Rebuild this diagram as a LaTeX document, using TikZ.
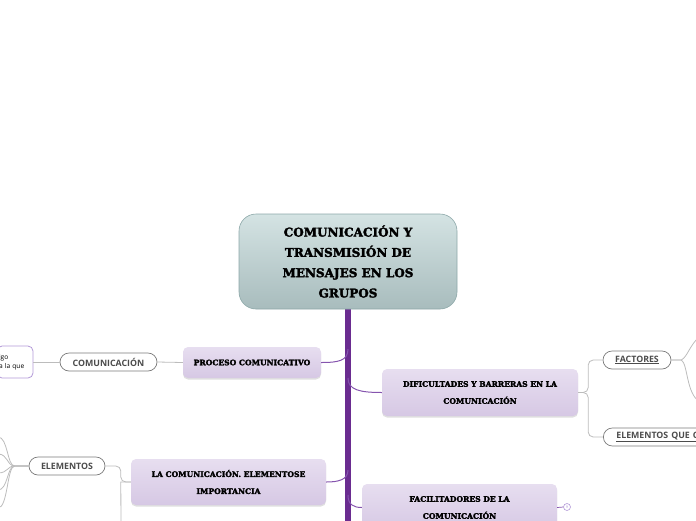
\documentclass[tikz,border=0pt]{standalone}
\usepackage{fontspec}
\setmainfont{DejaVu Serif}[BoldFeatures={FakeBold=2.6}]
\newfontfamily\pillfont{Open Sans}
\usetikzlibrary{shadows}

\definecolor{trunkpurple}{HTML}{6A2C90}
\definecolor{branchpurple}{HTML}{8554AE}
\definecolor{lavtop}{HTML}{E7DEF0}
\definecolor{lavbot}{HTML}{D6C8E4}
\definecolor{titletop}{HTML}{D4E3E3}
\definecolor{titlebot}{HTML}{A8BCBD}
\definecolor{titleedge}{HTML}{8DA8A9}
\definecolor{pillgray}{HTML}{7A7A7A}
\definecolor{linkgray}{HTML}{BCBCBC}
\definecolor{leafpurple}{HTML}{B39AD8}

\tikzset{
	topic/.style={rounded corners=5pt,top color=lavtop,bottom color=lavbot,
		drop shadow={opacity=0.25,shadow xshift=0pt,shadow yshift=-1.5pt},
		align=center,inner sep=0pt,font=\bfseries\fontsize{7.6}{17}\selectfont},
	pill/.style={draw=pillgray,line width=0.7pt,fill=white,rounded corners=9pt,
		minimum height=18pt,inner sep=0pt,text=black!70,
		font=\pillfont\bfseries\fontsize{8.8}{10}\selectfont},
	trunk/.style={trunkpurple,line width=5.5pt},
	branch/.style={branchpurple,line width=1pt},
	link/.style={linkgray,line width=0.8pt},
	leaf/.style={leafpurple,line width=0.7pt}
}

\begin{document}
\begin{tikzpicture}[x=1pt,y=-1pt]
	\useasboundingbox (0,0) rectangle (696,520);
	\clip (0,0) rectangle (696,520);
	
	%CENTRAL TOPIC
	\coordinate (trunkend) at (348,530);
	\draw[trunk] (348,300) -- (trunkend);
	\node[rounded corners=17pt,top color=titletop,bottom color=titlebot,draw=titleedge,line width=0.6pt,
		minimum width=218pt,minimum height=95pt,align=center,
		font=\bfseries\fontsize{12}{20.3}\selectfont] (title) at (348,261.5)
		{COMUNICACIÓN Y\\TRANSMISIÓN DE\\MENSAJES EN LOS\\GRUPOS};
	
	%MAIN TOPICS
	\node[topic,minimum width=138pt,minimum height=31pt] (proceso) at (252,362.5) {PROCESO COMUNICATIVO};
	\node[topic,minimum width=196pt,minimum height=47pt] (dificultades) at (480,392.5) {DIFICULTADES Y BARRERAS EN LA\\COMUNICACIÓN};
	\node[topic,minimum width=195pt,minimum height=46pt] (lacomunicacion) at (228.5,482) {LA COMUNICACIÓN. ELEMENTOSE\\IMPORTANCIA};
	\node[topic,minimum width=195pt,minimum height=47pt] (facilitadores) at (459.5,507.5) {FACILITADORES DE LA\\COMUNICACIÓN};
	
	\coordinate (jproceso) at (348,349);
	\coordinate (jdificultades) at (348,378);
	\coordinate (jlacomunicacion) at (348,470);
	\coordinate (jfacilitadores) at (348,495);
	\draw[branch] (jproceso) .. controls (348,361) and (338,362.5) .. (proceso.east);
	\draw[branch] (jdificultades) .. controls (348,390) and (360,392.5) .. (dificultades.west);
	\draw[branch] (jlacomunicacion) .. controls (348,480) and (338,482) .. (lacomunicacion.east);
	\draw[branch] (jfacilitadores) .. controls (348,505) and (354,507.5) .. (facilitadores.west);
	
	%SUBTOPICS
	\node[pill,minimum width=97pt] (comunicacion) at (108.5,362) {COMUNICACIÓN};
	\node[draw=leafpurple,line width=0.8pt,fill=white,rounded corners=5pt,minimum width=36pt,minimum height=32pt,
		inner sep=0pt,align=left,text width=32pt,font=\pillfont\fontsize{6.6}{9}\selectfont] (nota) at (15,362) {igo\\a la que};
	\node[pill,minimum width=68pt] (factores) at (637,360) {\underline{FACTORES}};
	\node[pill,anchor=west,text width=130pt,align=left,inner xsep=13pt] (elementosque) at (603,437) {\underline{ELEMENTOS QUE C}};
	\node[pill,minimum width=76pt] (elementos) at (67,466) {ELEMENTOS};
	\node[circle,draw=leafpurple,line width=0.6pt,fill=white,minimum size=7pt,inner sep=0pt,
		text=leafpurple,font=\fontsize{3.5}{4}\selectfont] (contar) at (567,507) {9};
	
	\draw[link] (proceso.west) -- (comunicacion.east);
	\draw[link] (comunicacion.west) -- (nota.east);
	\draw[link,rounded corners=5pt] (dificultades.east) -- ++(10,0) |- (factores.west);
	\draw[link,rounded corners=5pt] (dificultades.east) -- ++(10,0) |- (elementosque.west);
	\draw[link,rounded corners=5pt] (lacomunicacion.west) -- ++(-10,0) |- (elementos.east);
	\coordinate (elbot) at (121,530);
	\draw[link] (lacomunicacion.west) -- ++(-10,0) -- (elbot);
	\draw[branchpurple,line width=0.7pt] (facilitadores.east) -- (contar.west);
	
	%LEAVES OUT OF FRAME
	\coordinate (fup) at (700,336);
	\coordinate (fdown) at (700,402);
	\draw[link] (factores.east) -- ++(10,0) .. controls (688,356) and (689,346) .. (fup);
	\draw[link] (factores.east) -- ++(10,0) .. controls (688,364) and (686,394) .. (fdown);
	\foreach \y in {437,454,473,490,508}{
		\coordinate (eleaf\y) at (-2,\y);
		\draw[link] (elementos.west) -- ++(-14,0) .. controls (7,466) and (8,\y) .. (eleaf\y);
	}
\end{tikzpicture}
\end{document}
